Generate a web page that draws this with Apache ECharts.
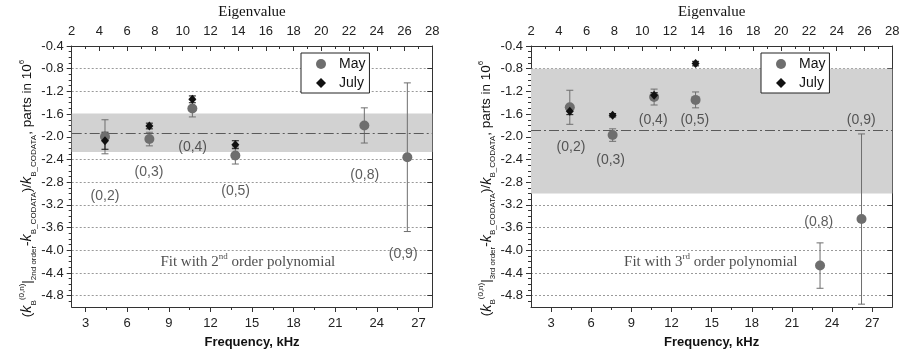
<!DOCTYPE html>
<html><head><meta charset="utf-8">
<script src="https://cdn.jsdelivr.net/npm/echarts@6/dist/echarts.min.js"></script>
<style>html,body{margin:0;padding:0;background:#fff}#c{width:904px;height:354px}</style>
</head><body><div id="c"></div>
<script>
// ---------- data ----------
const pointNames = ['(0,2)', '(0,3)', '(0,4)', '(0,5)', '(0,8)', '(0,9)'];
const freqKHz = [4.4, 7.6, 10.7, 13.8, 23.1, 26.2];
const julyFreqKHz = [4.4, 7.6, 10.7, 13.8];

// left panel: 2nd order polynomial fit
const may2 = [-2.00, -2.04, -1.50, -2.33, -1.80, -2.36];
const may2Err = [0.30, 0.12, 0.15, 0.15, 0.31, 1.31];
const july2 = [-2.07, -1.81, -1.34, -2.14];
const july2Err = [0.15, 0.05, 0.06, 0.07];
const fitLine2 = -1.93;
const band2 = [-1.59, -2.27];

// right panel: 3rd order polynomial fit
const may3 = [-1.48, -1.97, -1.30, -1.35, -4.27, -3.45];
const may3Err = [0.30, 0.11, 0.14, 0.14, 0.40, 1.50];
const july3 = [-1.55, -1.62, -1.27, -0.71];
const july3Err = [0.06, 0.03, 0.05, 0.04];
const fitLine3 = -1.89;
const band3 = [-0.80, -3.00];

// annotation anchors (data units)
const labelAt2 = [[4.4, -3.05], [7.57, -2.62], [10.72, -2.19], [13.82, -2.96], [23.13, -2.68], [25.9, -4.07]];
const labelAt3 = [[4.49, -2.19], [7.45, -2.42], [10.63, -1.70], [13.74, -1.70], [23.0, -3.51], [26.18, -1.70]];
const fitTextAt2 = [14.7, -4.2];
const fitTextAt3 = [14.93, -4.2];

// tick labels
const yTicks = [-4.8, -4.4, -4.0, -3.6, -3.2, -2.8, -2.4, -2.0, -1.6, -1.2, -0.8, -0.4];
const freqTicks = [3, 6, 9, 12, 15, 18, 21, 24, 27];
const freqMinorTicks = [4.5, 7.5, 10.5, 13.5, 16.5, 19.5, 22.5, 25.5];
const yMinorTicks = [];
for (let k = -49; k <= -4; k++) yMinorTicks.push(k / 10);

// ---------- styling ----------
const SANS = 'Liberation Sans, Arial, sans-serif';
const SERIF = 'Liberation Serif, Times New Roman, serif';
const MAY_C = '#6e6e6e', JULY_C = '#111111', AX_C = '#333';

const panels = [
  {grid: {left: 71.7, top: 43, width: 360.6, height: 266}, fx: [2, 28], may: may2, mayErr: may2Err, july: july2, julyErr: july2Err,
   fit: fitLine2, band: band2, labels: labelAt2, fitAt: fitTextAt2, ord: '2nd', sup: 'nd', legendLeft: 301},
  {grid: {left: 531, top: 43, width: 361.3, height: 266}, fx: [1.5, 28.5], may: may3, mayErr: may3Err, july: july3, julyErr: july3Err,
   fit: fitLine3, band: band3, labels: labelAt3, fitAt: fitTextAt3, ord: '3rd', sup: 'rd', legendLeft: 761}
];

const option = {animation: false, grid: [], xAxis: [], yAxis: [], series: [], legend: []};

function errRender(color) {
  return function (params, api) {
    const x = api.value(0), y = api.value(1), e = api.value(2);
    const t = api.coord([x, y + e]), b = api.coord([x, y - e]);
    const w = 3.5;
    const st = {stroke: color, lineWidth: 1};
    return {type: 'group', children: [
      {type: 'line', shape: {x1: t[0], y1: t[1], x2: b[0], y2: b[1]}, style: st},
      {type: 'line', shape: {x1: t[0] - w, y1: t[1], x2: t[0] + w, y2: t[1]}, style: st},
      {type: 'line', shape: {x1: b[0] - w, y1: b[1], x2: b[0] + w, y2: b[1]}, style: st}
    ]};
  };
}

panels.forEach((p, i) => {
  option.grid.push(Object.assign({containLabel: false}, p.grid));
  const xb = i * 3, yb = i * 3;
  // bottom frequency axis (major)
  option.xAxis.push({
    type: 'value', gridIndex: i, position: 'bottom', min: p.fx[0], max: p.fx[1],
    name: 'Frequency, kHz', nameLocation: 'middle', nameGap: 29,
    nameTextStyle: {fontFamily: SANS, fontWeight: 'bold', fontSize: 13, color: '#111'},
    axisLine: {show: true, onZero: false, lineStyle: {color: AX_C, width: 1}},
    axisTick: {show: true, inside: false, length: 5, customValues: freqTicks, lineStyle: {color: AX_C}},
    axisLabel: {show: true, customValues: freqTicks, margin: 10, fontFamily: SANS, fontSize: 13, color: '#222'},
    splitLine: {show: false}
  });
  // bottom minor ticks
  option.xAxis.push({
    type: 'value', gridIndex: i, position: 'bottom', min: p.fx[0], max: p.fx[1],
    axisLine: {show: false, onZero: false}, axisLabel: {show: false},
    axisTick: {show: true, inside: false, length: 3, customValues: freqMinorTicks, lineStyle: {color: AX_C}},
    splitLine: {show: false}
  });
  // top eigenvalue axis
  option.xAxis.push({
    type: 'value', gridIndex: i, position: 'top', min: 2, max: 28, interval: 2,
    name: 'Eigenvalue', nameLocation: 'middle', nameGap: 26,
    nameTextStyle: {fontFamily: SERIF, fontSize: 15, color: '#111'},
    axisLine: {show: true, onZero: false, lineStyle: {color: AX_C, width: 1}},
    axisTick: {show: true, inside: true, length: 5, lineStyle: {color: AX_C}},
    minorTick: {show: true, splitNumber: 2, length: 3, lineStyle: {color: AX_C}},
    axisLabel: {show: true, margin: 8, fontFamily: SANS, fontSize: 13, color: '#222'},
    splitLine: {show: false}
  });
  // left y axis (major)
  option.yAxis.push({
    type: 'value', gridIndex: i, position: 'left', min: -5.0, max: -0.4,
    name: '{p|(}{i|k}{sub|B}{sup|(0,n)}{p||}{sub|' + p.ord + ' order}{p|-}{i|k}{sub|B_CODATA}{p|)/}{i|k}{sub|B_CODATA}{p|, parts in 10}{sup|6}',
    nameLocation: 'middle', nameRotate: 90, nameGap: 32,
    nameTextStyle: {
      fontFamily: SANS, fontSize: 13, color: '#111', padding: [0, 24, 0, 0],
      rich: {
        p: {fontFamily: SANS, fontSize: 13.5, lineHeight: 20, verticalAlign: 'middle', color: '#111'},
        i: {fontFamily: SANS, fontSize: 14.5, fontStyle: 'italic', lineHeight: 20, verticalAlign: 'middle', color: '#111'},
        sub: {fontFamily: SANS, fontSize: 8, lineHeight: 9, verticalAlign: 'bottom', color: '#111'},
        sup: {fontFamily: SANS, fontSize: 8, lineHeight: 9, verticalAlign: 'top', color: '#111'}
      }
    },
    axisLine: {show: true, onZero: false, lineStyle: {color: AX_C, width: 1}},
    axisTick: {show: true, inside: false, length: 5, customValues: yTicks, lineStyle: {color: AX_C}},
    axisLabel: {show: true, customValues: yTicks, margin: 8, fontFamily: SANS, fontSize: 13, color: '#222',
      formatter: v => v.toFixed(1)},
    splitLine: {show: true, lineStyle: {color: '#9a9a9a', type: [2, 2], width: 1}}
  });
  // left minor ticks
  option.yAxis.push({
    type: 'value', gridIndex: i, position: 'left', min: -5.0, max: -0.4,
    axisLine: {show: false, onZero: false}, axisLabel: {show: false},
    axisTick: {show: true, inside: false, length: 3, customValues: yMinorTicks, lineStyle: {color: AX_C}},
    splitLine: {show: false}
  });
  // right y axis
  option.yAxis.push({
    type: 'value', gridIndex: i, position: 'right', min: -5.0, max: -0.4,
    axisLine: {show: true, onZero: false, lineStyle: {color: AX_C, width: 1}},
    axisTick: {show: true, inside: true, length: 5, customValues: yTicks, lineStyle: {color: AX_C}},
    axisLabel: {show: false}, splitLine: {show: false}
  });

  // band + fit line (behind points)
  option.series.push({
    type: 'scatter', xAxisIndex: xb, yAxisIndex: yb, data: [], silent: true, z: 1,
    markArea: {silent: true, itemStyle: {color: '#d2d2d2', opacity: 1},
      data: [[{yAxis: p.band[0]}, {yAxis: p.band[1]}]]},
    markLine: {silent: true, symbol: ['none', 'none'], label: {show: false},
      lineStyle: {color: '#5a5a5a', type: [10, 3, 2, 3], width: 1.2},
      data: [{yAxis: p.fit}]}
  });
  // error bars
  option.series.push({
    type: 'custom', name: 'May err', xAxisIndex: xb, yAxisIndex: yb, z: 3, silent: true,
    renderItem: errRender(MAY_C),
    data: freqKHz.map((f, k) => [f, p.may[k], p.mayErr[k]])
  });
  option.series.push({
    type: 'custom', name: 'July err', xAxisIndex: xb, yAxisIndex: yb, z: 4, silent: true,
    renderItem: errRender(JULY_C),
    data: julyFreqKHz.map((f, k) => [f, p.july[k], p.julyErr[k]])
  });
  // points
  option.series.push({
    type: 'scatter', name: 'May', xAxisIndex: xb, yAxisIndex: yb, z: 5,
    symbol: 'circle', symbolSize: 10, itemStyle: {color: MAY_C, opacity: 1},
    data: freqKHz.map((f, k) => [f, p.may[k]])
  });
  option.series.push({
    type: 'scatter', name: 'July', xAxisIndex: xb, yAxisIndex: yb, z: 6,
    symbol: 'diamond', symbolSize: [8, 9], itemStyle: {color: JULY_C, opacity: 1},
    data: julyFreqKHz.map((f, k) => [f, p.july[k]])
  });
  // point labels
  option.series.push({
    type: 'scatter', xAxisIndex: xb, yAxisIndex: yb, z: 7, silent: true, symbolSize: 0,
    data: p.labels.map((a, k) => [a[0], a[1], pointNames[k]]),
    label: {show: true, position: 'inside', formatter: q => q.value[2],
      fontFamily: SANS, fontSize: 14, color: '#333'}
  });
  // fit description
  option.series.push({
    type: 'scatter', xAxisIndex: xb, yAxisIndex: yb, z: 7, silent: true, symbolSize: 0,
    data: [[p.fitAt[0], p.fitAt[1]]],
    label: {show: true, position: 'inside',
      formatter: '{t|Fit with ' + p.ord.charAt(0) + '}{s|' + p.sup + '}{t| order polynomial}',
      rich: {
        t: {fontFamily: SERIF, fontSize: 15, color: '#222', lineHeight: 18, verticalAlign: 'middle'},
        s: {fontFamily: SERIF, fontSize: 9, color: '#222', lineHeight: 10, verticalAlign: 'top'}
      }}
  });
  option.legend.push({
    left: p.legendLeft, top: 53, orient: 'vertical', data: ['May', 'July'],
    itemWidth: 10, itemHeight: 10, itemGap: 5, padding: [4, 4, 3, 15],
    borderColor: '#222', borderWidth: 1, borderRadius: 0, backgroundColor: '#fff',
    textStyle: {fontFamily: SANS, fontSize: 14, color: '#111', padding: [0, 0, 0, 8]}, selectedMode: false
  });
});

const chart = echarts.init(document.getElementById('c'), null, {renderer: 'canvas'});
chart.setOption(option);
</script>
</body></html>
